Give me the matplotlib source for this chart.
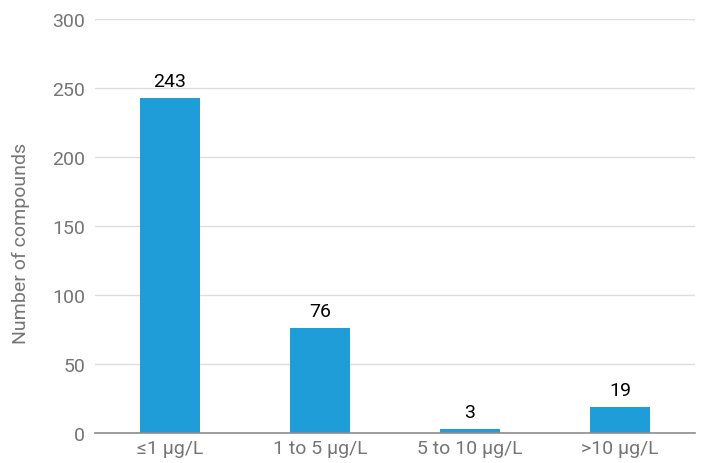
import matplotlib
matplotlib.use("Agg")
import matplotlib.pyplot as plt

plt.rcParams['font.family'] = ['Roboto', 'DejaVu Sans']

categories = ["≤1 µg/L", "1 to 5 µg/L", "5 to 10 µg/L", ">10 µg/L"]
counts = [243, 76, 3, 19]
y_ticks = [0, 50, 100, 150, 200, 250, 300]

bar_color = "#1e9dd8"
grid_color = "#dedede"
tick_color = "#757575"
fs = 14

fig = plt.figure(figsize=(7.02, 4.64), dpi=100)
ax = fig.add_axes([95 / 702, 30 / 464, 600 / 702, 414 / 464])

x = range(len(categories))
ax.bar(x, counts, width=0.4, color=bar_color, zorder=3)
for xi, v in zip(x, counts):
    ax.annotate(str(v), (xi, v), xytext=(0, 5.5), textcoords="offset points",
                ha="center", va="bottom", fontsize=fs, color="black")

ax.set_xlim(-0.5, len(categories) - 0.5)
ax.set_ylim(0, 300)
ax.set_yticks(y_ticks)
ax.set_xticks(list(x))
ax.set_xticklabels(categories)

ax.grid(axis="y", color=grid_color, linewidth=1, zorder=0)
for side in ["top", "right", "left"]:
    ax.spines[side].set_visible(False)
ax.spines["bottom"].set_color("#8c8c8c")
ax.spines["bottom"].set_linewidth(1.2)
ax.spines["bottom"].set_zorder(4)

ax.tick_params(axis="both", length=0, labelsize=fs, labelcolor=tick_color)
ax.tick_params(axis="y", pad=7)
ax.tick_params(axis="x", pad=4)
ax.set_ylabel("Number of compounds", fontsize=fs, color=tick_color, va="center")
ax.yaxis.set_label_coords(-0.124, 0.461)

fig.savefig("out.png", dpi=100)
